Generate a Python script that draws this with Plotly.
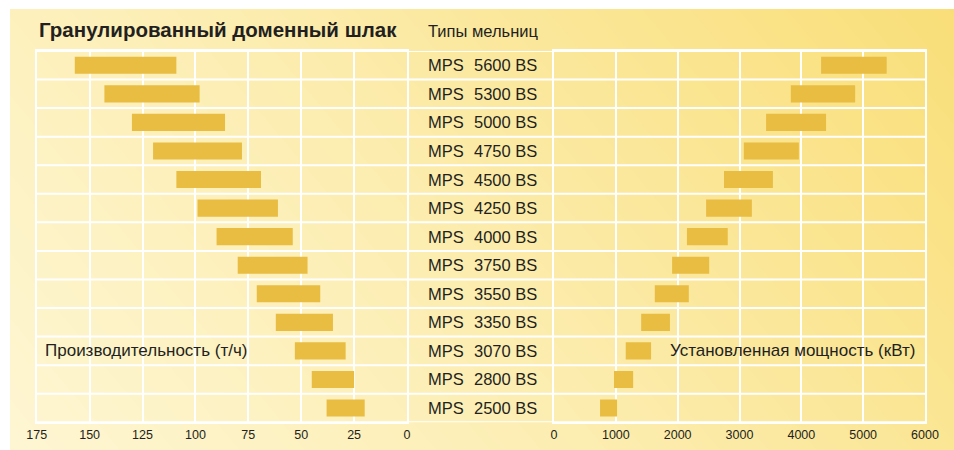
import numpy as np
import plotly.graph_objects as go

W, H = 954, 450

# ---------------- data ----------------
mill_types = ["5600 BS", "5300 BS", "5000 BS", "4750 BS", "4500 BS", "4250 BS", "4000 BS",
              "3750 BS", "3550 BS", "3350 BS", "3070 BS", "2800 BS", "2500 BS"]
capacity_min = [109, 98, 86, 78, 69, 61, 54, 47, 41, 35, 29, 25, 20]      # t/h
capacity_max = [157, 143, 130, 120, 109, 99, 90, 80, 71, 62, 53, 45, 38]  # t/h
power_min = [4320, 3830, 3430, 3070, 2750, 2460, 2150, 1910, 1630, 1410, 1160, 970, 745]   # kW
power_max = [5380, 4870, 4400, 3960, 3540, 3200, 2810, 2510, 2180, 1875, 1570, 1280, 1020]  # kW
left_ticks = [175, 150, 125, 100, 75, 50, 25, 0]
right_ticks = [0, 1000, 2000, 3000, 4000, 5000, 6000]

title_text = "Гранулированный доменный шлак"
column_title = "Типы мельниц"
left_label = "Производительность (т/ч)"
right_label = "Установленная мощность (кВт)"
prefix = "MPS"

# ---------------- style ----------------
FONT = "Liberation Sans, Arial, Helvetica, sans-serif"
TXT = "#231F20"
BAR = "#E9BC42"
GRID = "#FFFFFF"

def px_x(p):
    return p / W

def px_y(p):
    return 1 - p / H

fig = go.Figure()

# background gradient (decoration)
gx = np.linspace(0, 1, 60)
gy = np.linspace(0, 1, 30)
GX, GY = np.meshgrid(gx, gy)
Z = 0.72 * GX + 0.28 * GY
fig.add_trace(go.Heatmap(x=gx, y=gy, z=Z, zsmooth="best", showscale=False, hoverinfo="skip",
                         colorscale=[[0, "#FEF6D3"], [0.45, "#FCEDB0"], [1, "#F9DE78"]],
                         zmin=0, zmax=1, xaxis="x", yaxis="y"))

cats_order = list(reversed(mill_types))  # bottom to top

fig.add_trace(go.Bar(y=mill_types, base=capacity_min,
                     x=[a - b for a, b in zip(capacity_max, capacity_min)],
                     orientation="h", marker=dict(color=BAR, line=dict(width=0)),
                     width=0.6, xaxis="x2", yaxis="y2", hoverinfo="skip"))
fig.add_trace(go.Bar(y=mill_types, base=power_min,
                     x=[a - b for a, b in zip(power_max, power_min)],
                     orientation="h", marker=dict(color=BAR, line=dict(width=0)),
                     width=0.6, xaxis="x3", yaxis="y3", hoverinfo="skip"))

y_dom = [px_y(422.3), px_y(51)]
tickfont = dict(family=FONT, size=12.5, color=TXT)

axis_common = dict(showgrid=True, gridcolor=GRID, gridwidth=2, zeroline=False,
                   showline=True, linecolor=GRID, linewidth=2, mirror=True,
                   ticks="", tickfont=tickfont, fixedrange=True, automargin=False)

fig.update_layout(
    width=W, height=H, autosize=False,
    margin=dict(l=0, r=0, t=0, b=0, pad=0),
    paper_bgcolor="white", plot_bgcolor="rgba(0,0,0,0)",
    showlegend=False, barmode="overlay",
    xaxis=dict(domain=[px_x(10), 1], range=[0, 1], visible=False, fixedrange=True),
    yaxis=dict(domain=[0, px_y(9)], range=[0, 1], visible=False, fixedrange=True),
    xaxis2=dict(domain=[px_x(36.7), px_x(407)], range=[175, 0], tickvals=left_ticks,
                anchor="y2", **axis_common),
    yaxis2=dict(domain=y_dom, type="category", categoryarray=cats_order,
                categoryorder="array", range=[-0.5, 12.5], showticklabels=False,
                anchor="x2", showgrid=False, zeroline=False, showline=True,
                linecolor=GRID, linewidth=2, mirror=True, ticks="", fixedrange=True),
    xaxis3=dict(domain=[px_x(554), px_x(925)], range=[0, 6000], tickvals=right_ticks,
                anchor="y3", **axis_common),
    yaxis3=dict(domain=y_dom, type="category", categoryarray=cats_order,
                categoryorder="array", range=[-0.5, 12.5], showticklabels=False,
                anchor="x3", showgrid=False, zeroline=False, showline=True,
                linecolor=GRID, linewidth=2, mirror=True, ticks="", fixedrange=True),
)

# horizontal row separators spanning the whole table
shapes = []
for k in range(len(mill_types) + 1):
    shapes.append(dict(type="line", xref="paper", yref="y2",
                       x0=px_x(36.7), x1=px_x(925), y0=k - 0.5, y1=k - 0.5,
                       line=dict(color=GRID, width=2), layer="above"))
fig.update_layout(shapes=shapes)

annotations = [
    dict(text="<b>" + title_text + "</b>", xref="paper", yref="paper",
         x=px_x(37), y=px_y(30), xanchor="left", yanchor="middle", showarrow=False,
         font=dict(family=FONT, size=20.5, color=TXT)),
    dict(text=column_title, xref="paper", yref="paper",
         x=px_x(426), y=px_y(31), xanchor="left", yanchor="middle", showarrow=False,
         font=dict(family=FONT, size=16.5, color=TXT)),
    dict(text=left_label, xref="paper", yref="y2",
         x=px_x(43), y=mill_types[10], xanchor="left", yanchor="middle", showarrow=False,
         font=dict(family=FONT, size=17, color=TXT)),
    dict(text=right_label, xref="paper", yref="y3",
         x=px_x(668), y=mill_types[10], xanchor="left", yanchor="middle", showarrow=False,
         font=dict(family=FONT, size=17, color=TXT)),
]
for m in mill_types:
    annotations.append(dict(text=prefix, xref="paper", yref="y2", x=px_x(426), y=m,
                            xanchor="left", yanchor="middle", showarrow=False,
                            font=dict(family=FONT, size=16.5, color=TXT)))
    annotations.append(dict(text=m, xref="paper", yref="y2", x=px_x(472), y=m,
                            xanchor="left", yanchor="middle", showarrow=False,
                            font=dict(family=FONT, size=16.5, color=TXT)))
fig.update_layout(annotations=annotations)

fig.write_html("out.html", config={"displayModeBar": False, "responsive": False},
               post_script="document.body.style.margin='0';document.body.style.overflow='hidden';")
